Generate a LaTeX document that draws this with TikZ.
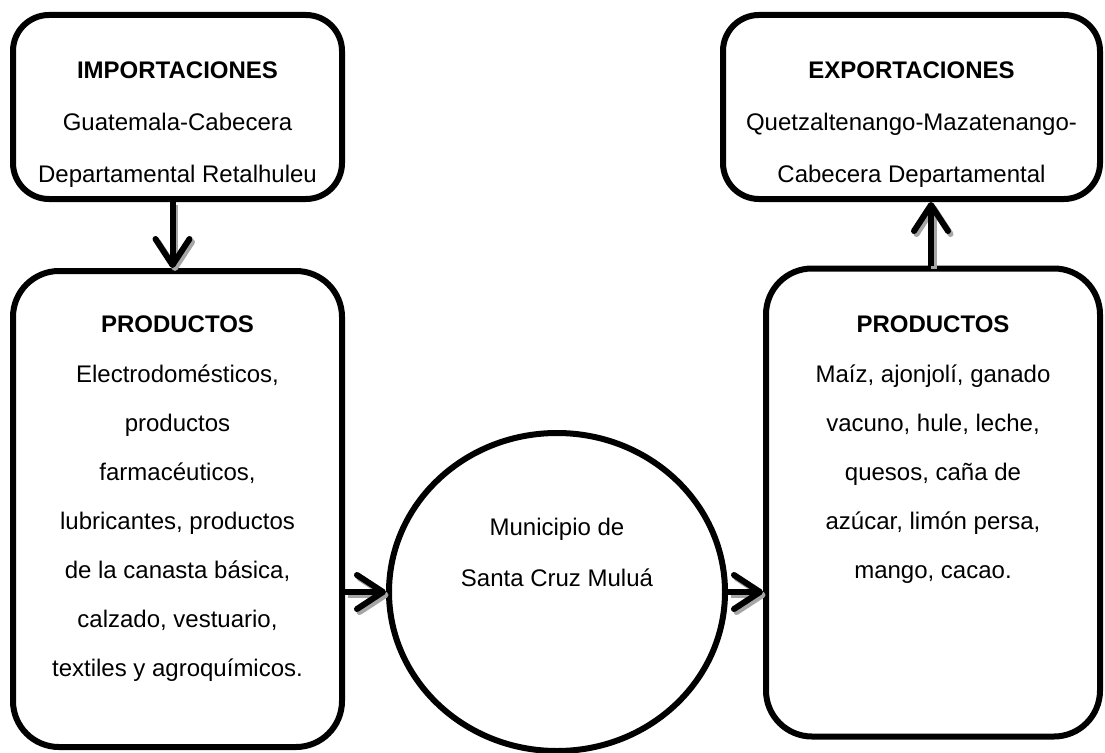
\documentclass[tikz,border=0pt]{standalone}
\usepackage{fontspec}
\setmainfont{Liberation Sans}
\usetikzlibrary{arrows.meta,shapes.geometric}
\begin{document}
\begin{tikzpicture}[x=1pt,y=-1pt,
 box/.style={draw=black,line width=6pt,rounded corners=#1,inner sep=0pt},
 ttl/.style={font=\fontsize{24}{28}\selectfont\bfseries,inner sep=0pt,anchor=north},
 body/.style={font=\fontsize{24}{49}\selectfont,align=center,inner sep=0pt,anchor=north},
 conn/.style={line width=6pt,-{Straight Barb[length=26pt,width=34pt,line cap=round,line join=round]}},
 shadowed/.style={draw=black!35,transform canvas={xshift=2.5pt,yshift=-3pt}}
]
\useasboundingbox (0,0) rectangle (1105,752);
\clip (0,0) rectangle (1105,752);

\node[box=36pt,minimum width=329pt,minimum height=184pt] (imp) at (177.5,107) {};
\node[box=36pt,minimum width=377pt,minimum height=184pt] (exp) at (911.5,107) {};
\node[box=46pt,minimum width=329pt,minimum height=476pt] (prodL) at (177.5,509) {};
\node[box=46pt,minimum width=334pt,minimum height=468pt] (prodR) at (933,502.5) {};
\node[draw=black,line width=6pt,ellipse,minimum width=336pt,minimum height=318pt,inner sep=0pt] (mun) at (557,592) {};

\node[ttl] (impT) at (177.5,61.4) {IMPORTACIONES};
\node[body,font=\fontsize{24}{51.5}\selectfont] (impB) at (177.5,113.4) {Guatemala-Cabecera\\Departamental Retalhuleu};
\node[ttl] (expT) at (911.5,61.4) {EXPORTACIONES};
\node[body,font=\fontsize{24}{51.5}\selectfont] (expB) at (911.5,113.4) {Quetzaltenango-Mazatenango-\\Cabecera Departamental};
\node[ttl] (pLT) at (177.5,315.4) {PRODUCTOS};
\node[body] (pLB) at (177.5,364.4) {Electrodomésticos,\\productos\\farmacéuticos,\\lubricantes, productos\\de la canasta básica,\\calzado, vestuario,\\textiles y agroquímicos.};
\node[ttl] (pRT) at (933,315.4) {PRODUCTOS};
\node[body] (pRB) at (933,364.4) {Maíz, ajonjolí, ganado\\vacuno, hule, leche,\\quesos, caña de\\azúcar, limón persa,\\mango, cacao.};
\node[body,font=\fontsize{24}{51}\selectfont] (munB) at (557,518.4) {Municipio de\\Santa Cruz Muluá};

% arrows: shadow first, then black
\draw[conn,shadowed] ([xshift=-5pt]imp.south) -- ([xshift=-5pt]prodL.north);
\draw[conn] ([xshift=-5pt]imp.south) -- ([xshift=-5pt]prodL.north);
\draw[conn,shadowed] ([xshift=-2pt]prodR.north) -- ([xshift=-2pt]prodR.north |- exp.south);
\draw[conn] ([xshift=-2pt]prodR.north) -- ([xshift=-2pt]prodR.north |- exp.south);
\draw[conn,shadowed] (prodL.east |- mun.west) -- (mun.west);
\draw[conn] (prodL.east |- mun.west) -- (mun.west);
\draw[conn,shadowed] (mun.east) -- (mun.east -| prodR.west);
\draw[conn] (mun.east) -- (mun.east -| prodR.west);
\end{tikzpicture}
\end{document}
